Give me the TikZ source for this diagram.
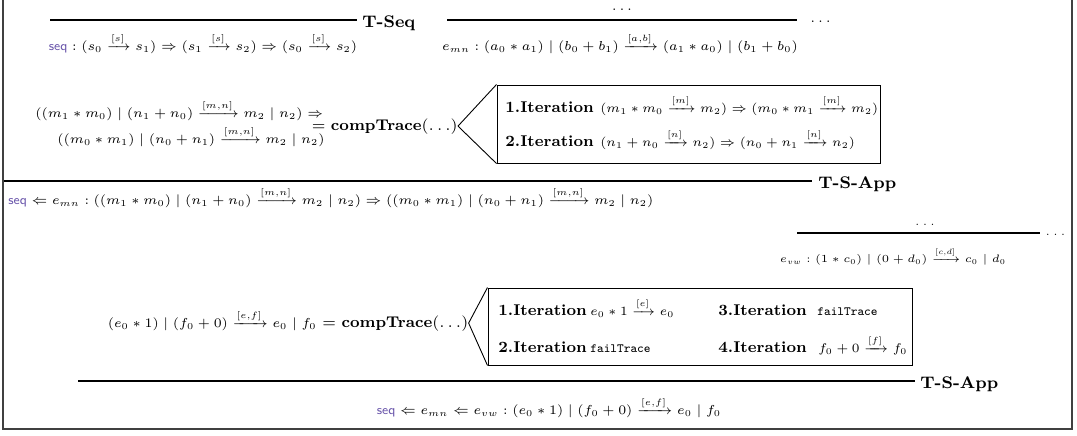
\RequirePackage{fix-cm}
\documentclass[tikz,border=0pt]{standalone}
\usepackage{amsmath,amssymb}
\usetikzlibrary{fit}
\definecolor{seqc}{RGB}{105,85,170}
\newcommand{\sq}{\textcolor{seqc}{\textsf{seq}}}
\newcommand{\xra}[1]{\xrightarrow{[#1]}}
\begin{document}
\begin{tikzpicture}[x=0.5pt,y=-0.5pt,
  mm/.style={inner sep=0pt, font=\fontsize{6.5}{8}\selectfont},
  sm/.style={inner sep=0pt, font=\fontsize{5.4}{7}\selectfont},
  bm/.style={inner sep=0pt, font=\fontsize{6.3}{8}\selectfont},
  lbl/.style={inner sep=0pt, font=\fontsize{7.8}{9}\selectfont\bfseries},
  rname/.style={inner sep=0pt, font=\fontsize{8.4}{10}\selectfont\bfseries},
  ctl/.style={inner sep=0pt, font=\fontsize{7.8}{9}\selectfont},
  rulel/.style={line width=0.55pt},
  framel/.style={line width=0.6pt, draw=black!75},
  itbox/.style={draw, line width=0.5pt, inner sep=0pt},
  tri/.style={line width=0.45pt}]
\useasboundingbox (0,0) rectangle (1077,435);
% frame
\draw[framel] (3,0) -- (3,429) -- (1072,429) -- (1072,0);

% ---- row 1: T-Seq
\coordinate (l1a) at (50,20); \coordinate (l1b) at (357,20);
\draw[rulel] (l1a) -- (l1b);
\node[rname, anchor=base west] (tseq) at (362,27) {T-Seq};
\node[mm, anchor=base] (seqf) at (203,50) {$\sq : (s_0 \xra{s} s_1) \Rightarrow (s_1 \xra{s} s_2) \Rightarrow (s_0 \xra{s} s_2)$};

\coordinate (l2a) at (447,20); \coordinate (l2b) at (797,20);
\draw[rulel] (l2a) -- (l2b);
\node[mm, anchor=base] (dA) at (622,10) {$\ldots$};
\node[mm, anchor=base west] (dB) at (810,22) {$\ldots$};
\node[mm, anchor=base] (emn) at (620,50) {$e_{mn} : (a_0 * a_1) \mid (b_0 + b_1) \xra{a,b} (a_1 * a_0) \mid (b_1 + b_0)$};

% ---- row 2
\node[mm, anchor=base west] (ma) at (35,117) {$((m_1 * m_0) \mid (n_1 + n_0) \xra{m,n} m_2 \mid n_2) \Rightarrow$};
\node[mm, anchor=base east] (mb) at (325,143) {$((m_0 * m_1) \mid (n_0 + n_1) \xra{m,n} m_2 \mid n_2)$};
\node[ctl, anchor=base east] (ct1) at (458,130) {$=$ \textbf{compTrace}$(\ldots)$};
\node[itbox, fit={(497,85) (880,163)}] (box1) {};
\draw[tri] (ct1.east) -- (box1.north west);
\draw[tri] (ct1.east) -- (box1.south west);
\node[lbl, anchor=base west] (i1a) at (505,112) {1.Iteration};
\node[bm, anchor=base west] (i1b) at (600,112) {$(m_1 * m_0 \xra{m} m_2) \Rightarrow (m_0 * m_1 \xra{m} m_2)$};
\node[lbl, anchor=base west] (i1c) at (505,146) {2.Iteration};
\node[bm, anchor=base west] (i1d) at (600,146) {$(n_1 + n_0 \xra{n} n_2) \Rightarrow (n_0 + n_1 \xra{n} n_2)$};

% ---- T-S-App 1
\coordinate (l3a) at (4,181); \coordinate (l3b) at (812,181);
\draw[rulel] (l3a) -- (l3b);
\node[rname, anchor=base west] (tsa1) at (818,188) {T-S-App};
\node[mm, anchor=base west] (seqb) at (8,204) {$\sq \Leftarrow e_{mn} : ((m_1 * m_0) \mid (n_1 + n_0) \xra{m,n} m_2 \mid n_2) \Rightarrow ((m_0 * m_1) \mid (n_0 + n_1) \xra{m,n} m_2 \mid n_2)$};

% ---- e_vw
\coordinate (l4a) at (797,233); \coordinate (l4b) at (1040,233);
\draw[rulel] (l4a) -- (l4b);
\node[sm, anchor=base] (dC) at (925,225) {$\ldots$};
\node[sm, anchor=base west] (dD) at (1045,235) {$\ldots$};
\node[sm, anchor=base] (evw) at (893,262) {$e_{vw} : (1 * c_0) \mid (0 + d_0) \xra{c,d} c_0 \mid d_0$};

% ---- row 5
\node[mm, anchor=base east] (ef) at (317,327) {$(e_0 * 1) \mid (f_0 + 0) \xra{e,f} e_0 \mid f_0$};
\node[ctl, anchor=base west] (ct2) at (322,327) {$=$ \textbf{compTrace}$(\ldots)$};
\node[itbox, fit={(488,288) (912,365)}] (box2) {};
\draw[tri] (ct2.east) -- (box2.north west);
\draw[tri] (ct2.east) -- (box2.south west);
\node[lbl, anchor=base west] (i2a) at (498,315) {1.Iteration};
\node[bm, anchor=base west] (i2b) at (590,315) {$e_0 * 1 \xra{e} e_0$};
\node[lbl, anchor=base west] (i2c) at (718,315) {3.Iteration};
\node[bm, anchor=base west] (i2d) at (817,315) {\texttt{failTrace}};
\node[lbl, anchor=base west] (i2e) at (498,352) {2.Iteration};
\node[bm, anchor=base west] (i2f) at (590,352) {\texttt{failTrace}};
\node[lbl, anchor=base west] (i2g) at (718,352) {4.Iteration};
\node[bm, anchor=base west] (i2h) at (818,352) {$f_0 + 0 \xra{f} f_0$};

% ---- T-S-App 2
\coordinate (l5a) at (78,381); \coordinate (l5b) at (915,381);
\draw[rulel] (l5a) -- (l5b);
\node[rname, anchor=base west] (tsa2) at (920,388) {T-S-App};
\node[mm, anchor=base] (fin) at (549,414) {$\sq \Leftarrow e_{mn} \Leftarrow e_{vw} : (e_0 * 1) \mid (f_0 + 0) \xra{e,f} e_0 \mid f_0$};
\end{tikzpicture}
\end{document}
